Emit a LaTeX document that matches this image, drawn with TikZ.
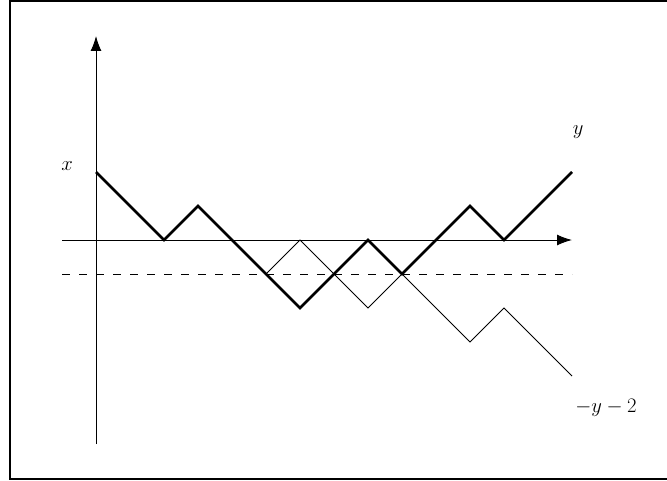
\documentclass[tikz,border=0pt]{standalone}
\usetikzlibrary{arrows.meta}
\begin{document}
\begin{tikzpicture}[
  thinline/.style={line width=0.8pt},
  thickpath/.style={line width=2.2pt, line join=miter},
  axis/.style={line width=0.8pt, -{Latex[length=0.44cm,width=0.32cm]}},
  dashline/.style={line width=0.8pt, dash pattern=on 0.24cm off 0.26cm},
  lab/.style={font=\fontsize{18.8}{22}\selectfont, inner sep=0pt}
]
\useasboundingbox (-2.824,-7.088) rectangle (16.794,7.059);
\draw[line width=1.3pt] (-2.53,-7.03) rectangle (17.5,7.03);
% axes
\coordinate (hs) at (-1,0);
\coordinate (he) at (14,0);
\coordinate (vs) at (0,-6);
\coordinate (ve) at (0,6);
\draw[axis] (hs) -- (he);
\draw[axis] (vs) -- (ve);
% dashed level -1
\coordinate (ds) at (-1,-1);
\coordinate (de) at (14,-1);
\draw[dashline] (ds) -- (de);
% reflected thin path
\draw[thinline] (5,-1) -- (6,0) -- (8,-2) -- (9,-1) -- (11,-3) -- (12,-2) -- (14,-4);
% thick path
\draw[thickpath] (0,2) -- (2,0) -- (3,1) -- (6,-2) -- (8,0) -- (9,-1) -- (11,1) -- (12,0) -- (14,2);
% labels
\node[lab] (lx) at (-0.85,2.18) {$x$};
\node[lab] (ly) at (14.18,3.18) {$y$};
\node[lab] (lr) at (15.0,-4.94) {$-y-2$};
\end{tikzpicture}
\end{document}
